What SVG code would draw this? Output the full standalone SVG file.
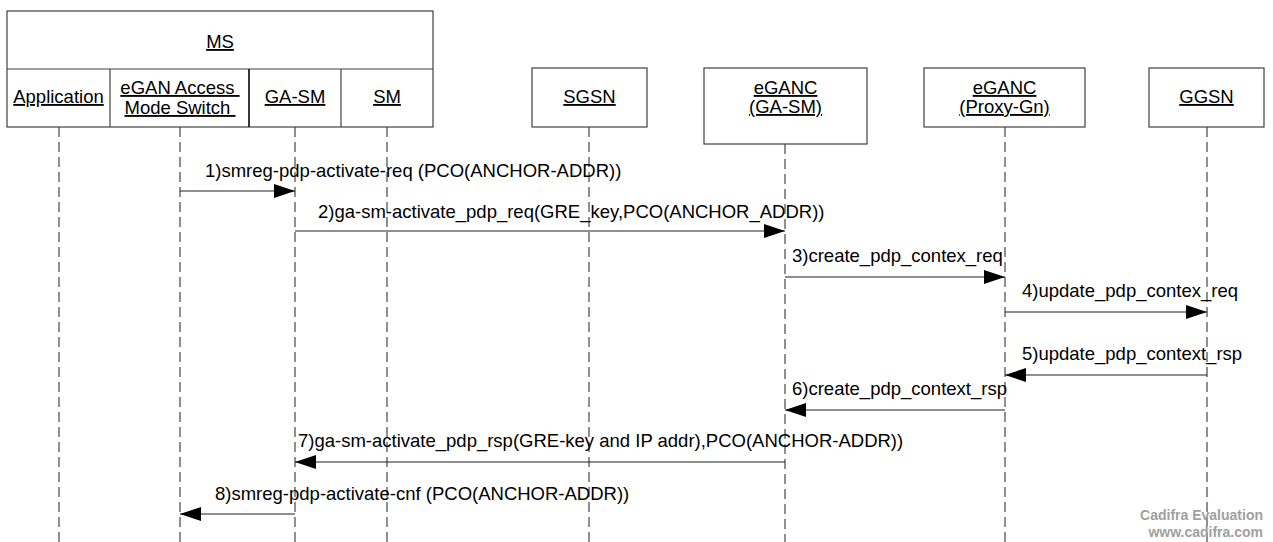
<svg xmlns="http://www.w3.org/2000/svg" width="1273" height="542" viewBox="0 0 1273 542">
<defs>
<style>
.box{fill:#fff;stroke:#404040;stroke-width:1.2}
.t{font-family:"Liberation Sans",Arial,sans-serif;font-size:18.5px;fill:#000}
.n{text-anchor:middle;text-decoration:underline;white-space:pre}
.life{stroke:#202020;stroke-width:1;stroke-dasharray:10,5;fill:none}
.msg{stroke:#202020;stroke-width:1.2;fill:none;marker-end:url(#ah)}
.wm{font-family:"Liberation Sans",Arial,sans-serif;font-size:14px;font-weight:bold;fill:#a0a0a0;text-anchor:end}
</style>
<marker id="ah" markerUnits="userSpaceOnUse" markerWidth="21" markerHeight="14" refX="21" refY="7" orient="auto">
<path d="M0,0 L21,7 L0,14 z" fill="#000"/>
</marker>
</defs>
<rect width="1273" height="542" fill="#fff"/>

<g id="lifelines">
<line class="life" x1="59" y1="127" x2="59" y2="542"/>
<line class="life" x1="180" y1="127" x2="180" y2="542"/>
<line class="life" x1="295" y1="127" x2="295" y2="542"/>
<line class="life" x1="387" y1="127" x2="387" y2="542"/>
<line class="life" x1="589" y1="127" x2="589" y2="542"/>
<line class="life" x1="785" y1="144" x2="785" y2="542"/>
<line class="life" x1="1005" y1="127" x2="1005" y2="542"/>
<line class="life" x1="1207" y1="127" x2="1207" y2="542"/>
</g>

<g id="MS">
<rect class="box" x="7" y="11" width="426" height="116"/>
<line x1="7" y1="69" x2="433" y2="69" stroke="#404040" stroke-width="1.2"/>
<line x1="110" y1="69" x2="110" y2="127" stroke="#404040" stroke-width="1.2"/>
<line x1="249" y1="69" x2="249" y2="127" stroke="#202020" stroke-width="1.8"/>
<line x1="341" y1="69" x2="341" y2="127" stroke="#404040" stroke-width="1.2"/>
<text class="t n" x="220" y="48">MS</text>
</g>
<g id="Application"><text class="t n" x="58.5" y="103">Application</text></g>
<g id="eGANAccessModeSwitch"><text class="t n" x="180" y="94">eGAN Access </text><text class="t n" x="180" y="114">Mode Switch </text></g>
<g id="GA-SM"><text class="t n" x="295" y="103">GA-SM</text></g>
<g id="SM"><text class="t n" x="387" y="103">SM</text></g>

<g id="SGSN"><rect class="box" x="532" y="68" width="115" height="59"/><text class="t n" x="589.5" y="103">SGSN</text></g>
<g id="eGANC-GA-SM"><rect class="box" x="704" y="68" width="163" height="76"/><text class="t n" x="785.5" y="94">eGANC</text><text class="t n" x="785.5" y="113">(GA-SM)</text></g>
<g id="eGANC-Proxy-Gn"><rect class="box" x="924" y="68" width="161" height="59"/><text class="t n" x="1004.5" y="94">eGANC</text><text class="t n" x="1004.5" y="113">(Proxy-Gn)</text></g>
<g id="GGSN"><rect class="box" x="1149" y="68" width="115" height="59"/><text class="t n" x="1206.5" y="103">GGSN</text></g>

<g id="connectors">
<line class="msg" x1="180" y1="191" x2="295" y2="191"/>
<line class="msg" x1="295" y1="231" x2="785" y2="231"/>
<line class="msg" x1="785" y1="277" x2="1005" y2="277"/>
<line class="msg" x1="1005" y1="312" x2="1207" y2="312"/>
<line class="msg" x1="1207" y1="375" x2="1005" y2="375"/>
<line class="msg" x1="1005" y1="410" x2="785" y2="410"/>
<line class="msg" x1="785" y1="462" x2="295" y2="462"/>
<line class="msg" x1="295" y1="514" x2="180" y2="514"/>
</g>

<g id="labels">
<text class="t" x="205" y="177">1)smreg-pdp-activate-req (PCO(ANCHOR-ADDR))</text>
<text class="t" x="318" y="218">2)ga-sm-activate_pdp_req(GRE_key,PCO(ANCHOR_ADDR))</text>
<text class="t" x="792" y="262">3)create_pdp_contex_req</text>
<text class="t" x="1022" y="297">4)update_pdp_contex_req</text>
<text class="t" x="1022" y="360">5)update_pdp_context_rsp</text>
<text class="t" x="792" y="395">6)create_pdp_context_rsp</text>
<text class="t" x="298" y="447">7)ga-sm-activate_pdp_rsp(GRE-key and IP addr),PCO(ANCHOR-ADDR))</text>
<text class="t" x="215" y="500">8)smreg-pdp-activate-cnf (PCO(ANCHOR-ADDR))</text>
</g>

<g id="watermark">
<text class="wm" x="1263" y="520">Cadifra Evaluation</text>
<text class="wm" x="1263" y="537">www.cadifra.com</text>
</g>
</svg>
